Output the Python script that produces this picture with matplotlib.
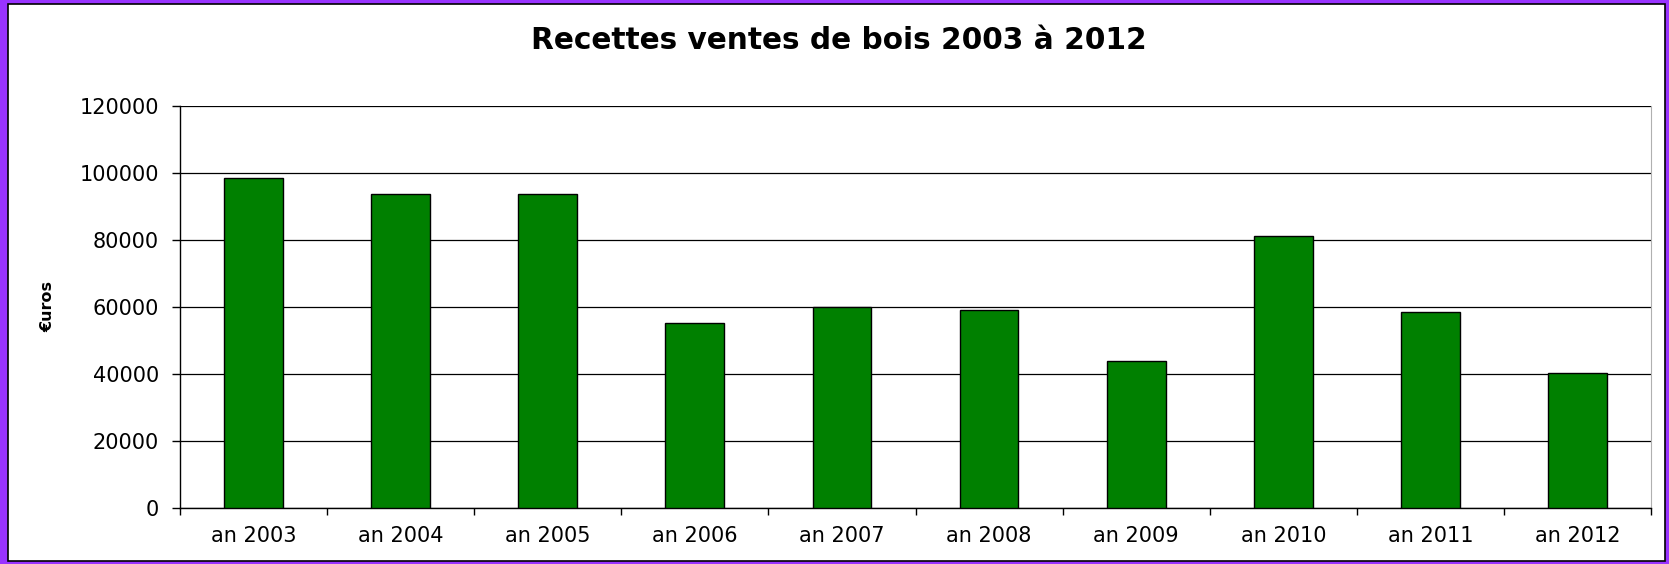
import matplotlib
matplotlib.use("Agg")
import matplotlib.pyplot as plt
from matplotlib.patches import Rectangle

# data
years = ["an 2003", "an 2004", "an 2005", "an 2006", "an 2007",
         "an 2008", "an 2009", "an 2010", "an 2011", "an 2012"]
recettes = [98400, 93600, 93600, 55200, 60000, 59200, 43800, 81200, 58400, 40400]
yticks = [0, 20000, 40000, 60000, 80000, 100000, 120000]

W, H = 1669, 564
fig = plt.figure(figsize=(W / 100, H / 100), dpi=100)
fig.patch.set_facecolor("#9933ff")

# white panel with thin black frame inside the purple border
fig.add_artist(Rectangle((8 / W, 3 / H), 1657 / W, 557 / H, transform=fig.transFigure,
                         facecolor="white", edgecolor="black", linewidth=1.2, zorder=0))

ax = fig.add_axes([180 / W, 1 - 508 / H, 1471 / W, 402 / H])
ax.set_facecolor("white")

x = list(range(len(years)))
ax.bar(x, recettes, width=0.4, color="#008000", edgecolor="black", linewidth=1.0, zorder=3)

ax.set_xlim(-0.5, len(years) - 0.5)
ax.set_ylim(0, 120000)
ax.set_yticks(yticks)
ax.set_yticklabels([str(v) for v in yticks])
ax.yaxis.grid(True, color="black", linewidth=0.9, zorder=1)
ax.set_axisbelow(True)

# category labels in the middle, tick marks between categories
ax.set_xticks(x)
ax.set_xticklabels(years)
ax.set_xticks([i - 0.5 for i in range(len(years) + 1)], minor=True)
ax.tick_params(axis="x", which="major", length=0, pad=13, labelsize=15)
ax.tick_params(axis="x", which="minor", length=5, width=1, direction="out")
ax.tick_params(axis="y", length=6, width=1, direction="out", pad=9, labelsize=15)

ax.spines["top"].set_visible(False)
ax.spines["right"].set_color("#b0b0b0")
ax.spines["left"].set_linewidth(1.0)
ax.spines["bottom"].set_linewidth(1.0)

fig.text(48 / W, 1 - 307 / H, "€uros", rotation=90, ha="center", va="center",
         fontsize=11.5, fontweight="bold")
fig.text(839 / W, 1 - 49 / H, "Recettes ventes de bois 2003 à 2012", ha="center",
         va="baseline", fontsize=21.3, fontweight="bold")

fig.savefig("out.png", dpi=100, facecolor=fig.get_facecolor())
